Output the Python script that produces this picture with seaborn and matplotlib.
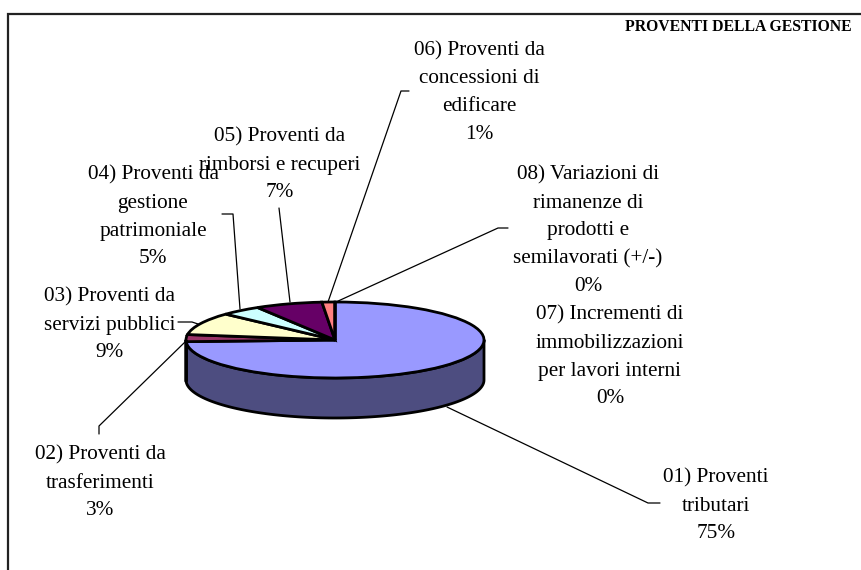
import numpy as np
import seaborn as sns
import matplotlib
matplotlib.use("Agg")
import matplotlib.pyplot as plt
from matplotlib.transforms import Affine2D

categories = ["01) Proventi\ntributari", "02) Proventi da\ntrasferimenti", "03) Proventi da\nservizi pubblici",
              "04) Proventi da\ngestione\npatrimoniale", "05) Proventi da\nrimborsi e recuperi",
              "06) Proventi da\nconcessioni di\nedificare", "07) Incrementi di\nimmobilizzazioni\nper lavori interni",
              "08) Variazioni di\nrimanenze di\nprodotti e\nsemilavorati (+/-)"]
shown_pct = ["75%", "3%", "9%", "5%", "7%", "1%", "0%", "0%"]
values = [74.3, 3.0, 9.6, 4.4, 7.3, 1.4, 0.0, 0.0]
top_colors = ["#9999FF", "#993366", "#FFFFCC", "#CCFFFF", "#660066", "#FF8080", "#FFFFFF", "#FFFFFF"]
title = "PROVENTI DELLA GESTIONE"

W, H = 861, 570
CX, CY, RX, RY, DEPTH = 335, 340, 149, 38, 40

sns.set_theme(style="white")
plt.rcParams["font.family"] = ["Liberation Serif", "DejaVu Serif"]
fig = plt.figure(figsize=(W / 100, H / 100), dpi=100, facecolor="white")
ax = fig.add_axes([0, 0, 1, 1])
ax.pie(values, colors=top_colors, startangle=90, counterclock=False, radius=1,
       wedgeprops=dict(edgecolor="black", linewidth=2, zorder=3))
ax.set_aspect("auto")
ax.set_xlim(-CX / RX, (W - CX) / RX)
ax.set_ylim(-(H - CY) / RY, CY / RY)
ax.axis("off")

# side wall of the visible front half, from the same values
d = DEPTH / RY
frac = np.cumsum([0] + values) / sum(values)
for i, c in enumerate(top_colors):
    t0 = 90 - 360 * frac[i + 1]
    t1 = 90 - 360 * frac[i]
    rng = []
    for a, b in [(t0, t1), (t0 + 360, t1 + 360)]:
        lo, hi = max(a, 180), min(b, 360)
        if hi > lo:
            rng.append((lo, hi))
    for lo, hi in rng:
        t = np.radians(np.linspace(lo, hi, 120))
        x = np.r_[np.cos(t), np.cos(t)[::-1]]
        y = np.r_[np.sin(t), np.sin(t)[::-1] - d]
        rgb = np.array(matplotlib.colors.to_rgb(c)) * 0.5
        ax.fill(x, y, color=rgb, ec="black", lw=2, zorder=2, joinstyle="round")

page = Affine2D().scale(1 / W, -1 / H).translate(0, 1) + fig.transFigure

frame_x = [8, 8, 861]
frame_y = [570, 13.5, 13.5]
ax.plot(frame_x, frame_y, color="#222222", lw=1.6, transform=page, clip_on=False, solid_joinstyle="miter")
ax.text(738.5, 27, title, transform=page, ha="center", va="center", fontsize=11.3, fontweight="bold", color="black")

leaders = [
    ([447, 648, 660], [407, 503, 503]),
    ([185, 99, 99], [342, 426, 434]),
    ([178, 192, 198], [322, 322, 324]),
    ([222, 233, 240], [214, 214, 309]),
    ([279, 290], [208, 302]),
    ([409, 401, 328], [91, 91, 302]),
    ([508, 498, 336], [228, 228, 302]),
]
for xs, ys in leaders:
    ax.plot(xs, ys, color="black", lw=0.9, transform=page, zorder=1)

label_pos = [(716, 506), (100, 483), (110, 325), (153, 217), (280, 165), (479, 92.5), (610, 357), (588, 231)]
for cat, pct, (x, y) in zip(categories, shown_pct, label_pos):
    ax.text(x, y, cat + "\n" + pct, transform=page, ha="center", va="center",
            fontsize=15.3, linespacing=1.63, color="black", zorder=5)

fig.savefig("out.png", dpi=100)
